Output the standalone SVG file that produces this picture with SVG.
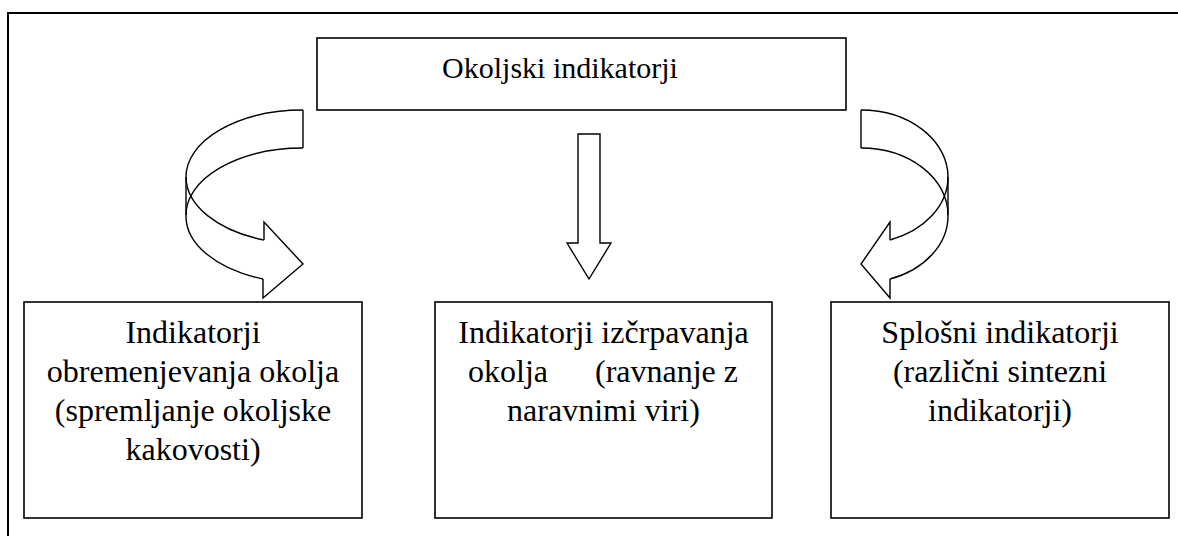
<svg xmlns="http://www.w3.org/2000/svg" width="1178" height="536" viewBox="0 0 1178 536">
  <style>
    .frame { fill: none; stroke: #000; stroke-width: 2; }
    .box { fill: #fff; stroke: #000; stroke-width: 1.6; }
    .arrow { fill: none; stroke: #000; stroke-width: 1.4; stroke-linejoin: miter; }
  </style>

  <rect x="0" y="0" width="1178" height="536" fill="#fff"/>
  <!-- page frame, running off the right and bottom edges -->
  <rect class="frame" x="8" y="13" width="1190" height="560"/>

  <g font-family="Liberation Serif, serif" font-size="32" fill="#000" text-anchor="middle">
    <g id="okoljski-indikatorji">
      <rect class="box" x="317" y="38" width="529" height="72"/>
      <text x="560" y="78" font-size="30">Okoljski indikatorji</text>
    </g>

    <g id="obremenjevanje">
      <rect class="box" x="24" y="302" width="338" height="216"/>
      <text x="193" y="343">Indikatorji</text>
      <text x="193" y="382">obremenjevanja okolja</text>
      <text x="193" y="421">(spremljanje okoljske</text>
      <text x="193" y="460">kakovosti)</text>
    </g>

    <g id="izcrpavanje">
      <rect class="box" x="435" y="302" width="337" height="216"/>
      <text x="603.5" y="343">Indikatorji izčrpavanja</text>
      <text x="468" y="382" text-anchor="start">okolja</text>
      <text x="738" y="382" text-anchor="end">(ravnanje z</text>
      <text x="603.5" y="421">naravnimi viri)</text>
    </g>

    <g id="splosni">
      <rect class="box" x="831" y="302" width="338" height="216"/>
      <text x="1000" y="343">Splošni indikatorji</text>
      <text x="1000" y="382">(različni sintezni</text>
      <text x="1000" y="421">indikatorji)</text>
    </g>
  </g>

  <g id="connectors">
    <!-- curved arrow to the left box -->
    <path class="arrow" d="M303,110 A117,67 0 0 0 186,177 A117,67 0 0 0 264,240"/>
    <path class="arrow" d="M303,148 A117,67 0 0 0 186,215 A117,67 0 0 0 263,279"/>
    <path class="arrow" d="M303,110 L303,148 M186,177 L186,215"/>
    <path class="arrow" d="M264,240 L264,222 L303,264 L263,298 L263,279"/>

    <!-- straight arrow to the middle box -->
    <path class="arrow" d="M578,134 L600,134 L600,243 L611,243 L589,279 L567,243 L578,243 Z"/>

    <!-- curved arrow to the right box -->
    <path class="arrow" d="M861,110 A87,67 0 0 1 948,177 A87,67 0 0 1 890,240"/>
    <path class="arrow" d="M861,148 A87,67 0 0 1 948,215 A87,67 0 0 1 890,279"/>
    <path class="arrow" d="M861,110 L861,148 M948,177 L948,215"/>
    <path class="arrow" d="M890,240 L890,222 L861,264 L890,298 L890,279"/>
  </g>
</svg>
